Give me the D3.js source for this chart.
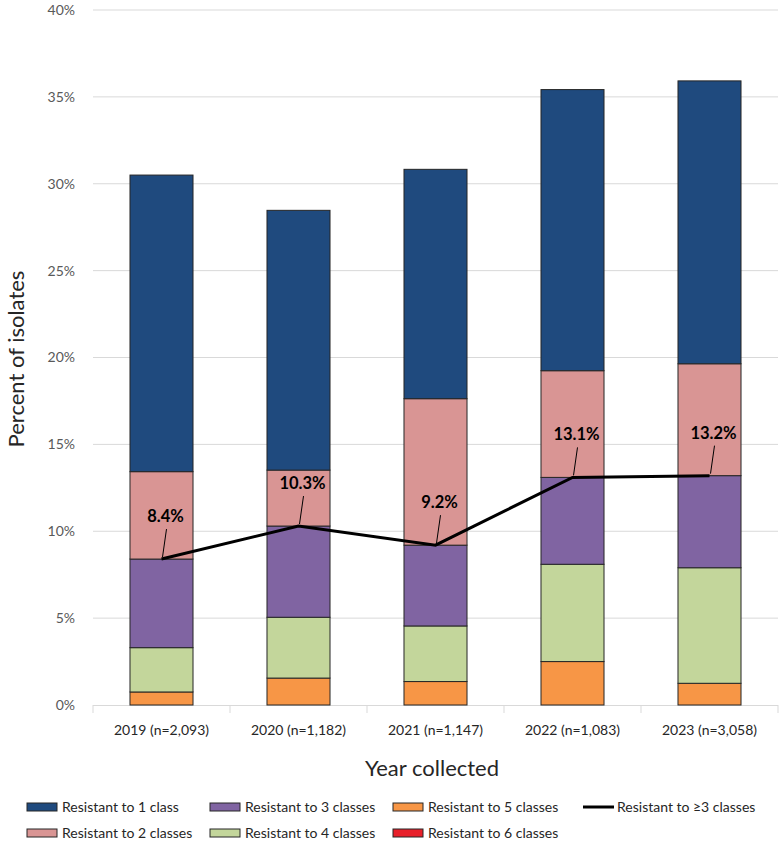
<!DOCTYPE html>
<html>
<head>
<meta charset="utf-8">
<script src="https://cdn.jsdelivr.net/npm/d3@7"></script>
<style>
  body { margin: 0; background: #fff; }
  svg { font-family: Lato, "Open Sans", sans-serif; }
</style>
</head>
<body>
<svg id="chart" width="780" height="845"></svg>
<script>
// categories and series (percent of isolates)
var years = ["2019 (n=2,093)", "2020 (n=1,182)", "2021 (n=1,147)", "2022 (n=1,083)", "2023 (n=3,058)"];
var resist1 = [17.07, 14.95, 13.2, 16.18, 16.28];
var resist2 = [5.03, 3.22, 8.43, 6.14, 6.44];
var resist3 = [5.1, 5.25, 4.65, 5.0, 5.3];
var resist4 = [2.55, 3.5, 3.2, 5.6, 6.65];
var resist5 = [0.75, 1.55, 1.35, 2.5, 1.25];
var resist6 = [0, 0, 0, 0, 0];
var resist3plus = [8.4, 10.3, 9.2, 13.1, 13.2];
var yTicks = [0, 5, 10, 15, 20, 25, 30, 35, 40];

var seriesNames = ["Resistant to 1 class", "Resistant to 2 classes", "Resistant to 3 classes",
                   "Resistant to 4 classes", "Resistant to 5 classes", "Resistant to 6 classes"];
var seriesColors = ["#1f4a7e", "#d99594", "#8064a2", "#c3d69b", "#f79646", "#e8202a"];

(function () {
  // stack from the bottom: 6 classes first, 1 class on top
  var seriesValues = [resist1, resist2, resist3, resist4, resist5, resist6];
  var rows = years.map(function (yr, i) {
    var r = { year: yr };
    seriesValues.forEach(function (s, k) { r["s" + k] = s[i]; });
    return r;
  });
  var stack = d3.stack().keys(["s5", "s4", "s3", "s2", "s1", "s0"]);
  var layers = stack(rows);

  var svg = d3.select("#chart");
  var plotLeft = 93, plotRight = 778, plotTop = 10, plotBottom = 705;

  var x = d3.scaleBand().domain(years).range([plotLeft, plotRight]).paddingInner(0.54).paddingOuter(0.27);
  var xCat = d3.scaleBand().domain(years).range([plotLeft, plotRight]);
  var y = d3.scaleLinear().domain([0, 40]).range([plotBottom, plotTop]);

  // gridlines
  svg.append("g").selectAll("line")
    .data(yTicks.filter(function (d) { return d > 0; }))
    .enter().append("line")
    .attr("x1", plotLeft).attr("x2", plotRight)
    .attr("y1", function (d) { return y(d); }).attr("y2", function (d) { return y(d); })
    .attr("stroke", "#d9d9d9").attr("stroke-width", 1);

  // y tick labels
  svg.append("g").selectAll("text")
    .data(yTicks)
    .enter().append("text")
    .attr("x", 75).attr("y", function (d) { return y(d); })
    .attr("dy", "0.35em").attr("text-anchor", "end")
    .attr("font-size", 14).attr("fill", "#595959")
    .text(function (d) { return d + "%"; });

  // x axis line and category ticks
  svg.append("line").attr("x1", plotLeft).attr("x2", plotRight)
    .attr("y1", plotBottom + 0.5).attr("y2", plotBottom + 0.5)
    .attr("stroke", "#d9d9d9");
  svg.append("g").selectAll("line")
    .data(years.concat([null]))
    .enter().append("line")
    .attr("x1", function (d) { return d ? xCat(d) : plotRight; })
    .attr("x2", function (d) { return d ? xCat(d) : plotRight; })
    .attr("y1", plotBottom).attr("y2", plotBottom + 8)
    .attr("stroke", "#d9d9d9");

  svg.append("g").selectAll("text")
    .data(years)
    .enter().append("text")
    .attr("x", function (d) { return xCat(d) + xCat.bandwidth() / 2; })
    .attr("y", 735).attr("text-anchor", "middle")
    .attr("font-size", 14).attr("fill", "#262626")
    .text(function (d) { return d; });

  // stacked bars
  var colorByKey = { s0: seriesColors[0], s1: seriesColors[1], s2: seriesColors[2],
                     s3: seriesColors[3], s4: seriesColors[4], s5: seriesColors[5] };
  svg.append("g").selectAll("g")
    .data(layers)
    .enter().append("g")
    .attr("fill", function (d) { return colorByKey[d.key]; })
    .selectAll("rect")
    .data(function (d) { return d.filter(function (p) { return p[1] - p[0] > 0; }); })
    .enter().append("rect")
    .attr("x", function (d) { return x(d.data.year); })
    .attr("width", x.bandwidth())
    .attr("y", function (d) { return y(d[1]); })
    .attr("height", function (d) { return y(d[0]) - y(d[1]); })
    .attr("stroke", "#262626").attr("stroke-width", 1);

  // resistant to >=3 classes line
  var cx = function (i) { return x(years[i]) + x.bandwidth() / 2; };
  var line = d3.line().x(function (d, i) { return cx(i); }).y(function (d) { return y(d); });
  svg.append("path").datum(resist3plus)
    .attr("d", line).attr("fill", "none")
    .attr("stroke", "#000").attr("stroke-width", 3);

  // data labels with leader lines
  var labels = svg.append("g").selectAll("g")
    .data(resist3plus)
    .enter().append("g");
  labels.append("line")
    .attr("x1", function (d, i) { return cx(i) + 1; })
    .attr("y1", function (d) { return y(d) - 2; })
    .attr("x2", function (d, i) { return cx(i) + 5; })
    .attr("y2", function (d) { return y(d) - 30; })
    .attr("stroke", "#000").attr("stroke-width", 1);
  labels.append("text")
    .attr("x", function (d, i) { return cx(i) + 4; })
    .attr("y", function (d) { return y(d) - 37; })
    .attr("text-anchor", "middle")
    .attr("font-size", 16.5).attr("font-weight", "bold").attr("fill", "#000")
    .text(function (d) { return d.toFixed(1) + "%"; });

  // axis titles
  svg.append("text")
    .attr("transform", "translate(24,359) rotate(-90)")
    .attr("text-anchor", "middle").attr("font-size", 22).attr("fill", "#262626")
    .text("Percent of isolates");
  svg.append("text")
    .attr("x", 432).attr("y", 776).attr("text-anchor", "middle")
    .attr("font-size", 22).attr("fill", "#262626")
    .text("Year collected");

  // legend
  var legendPos = [[27, 807], [27, 833], [210, 807], [210, 833], [393, 807], [393, 833]];
  var legend = svg.append("g").selectAll("g")
    .data(seriesNames)
    .enter().append("g")
    .attr("transform", function (d, i) { return "translate(" + legendPos[i][0] + "," + legendPos[i][1] + ")"; });
  legend.append("rect")
    .attr("x", 0).attr("y", -4).attr("width", 30).attr("height", 8)
    .attr("fill", function (d, i) { return seriesColors[i]; })
    .attr("stroke", "#262626").attr("stroke-width", 1);
  legend.append("text")
    .attr("x", 35).attr("y", 0).attr("dy", "0.35em")
    .attr("font-size", 14).attr("fill", "#262626")
    .text(function (d) { return d; });

  var lineLegend = svg.append("g").attr("transform", "translate(583,807)");
  lineLegend.append("line").attr("x1", 0).attr("x2", 31).attr("y1", 0).attr("y2", 0)
    .attr("stroke", "#000").attr("stroke-width", 3);
  lineLegend.append("text").attr("x", 34).attr("y", 0).attr("dy", "0.35em")
    .attr("font-size", 14).attr("fill", "#262626")
    .text("Resistant to \u22653 classes");
})();
</script>
</body>
</html>
